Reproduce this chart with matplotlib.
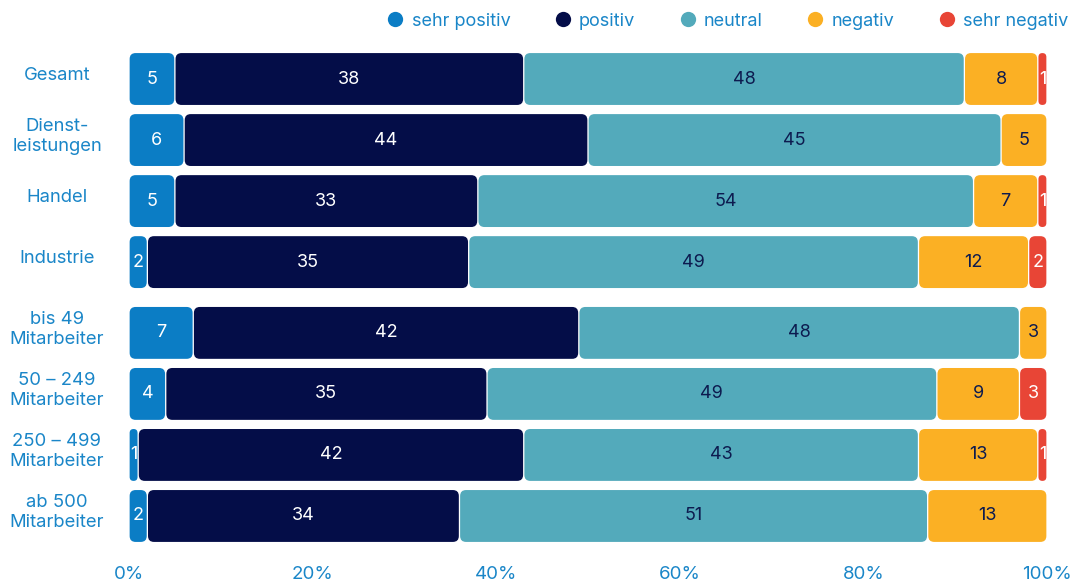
import matplotlib
matplotlib.use("Agg")
import matplotlib.pyplot as plt
from matplotlib.patches import FancyBboxPatch
from matplotlib.lines import Line2D
from matplotlib import transforms

plt.rcParams['font.family'] = ['Inter', 'DejaVu Sans']

categories = ["Gesamt", "Dienst-\nleistungen", "Handel", "Industrie",
              "bis 49\nMitarbeiter", "50 – 249\nMitarbeiter",
              "250 – 499\nMitarbeiter", "ab 500\nMitarbeiter"]
series_names = ["sehr positiv", "positiv", "neutral", "negativ", "sehr negativ"]
sehr_positiv = [5, 6, 5, 2, 7, 4, 1, 2]
positiv = [38, 44, 33, 35, 42, 35, 42, 34]
neutral = [48, 45, 54, 49, 48, 49, 43, 51]
negativ = [8, 5, 7, 12, 3, 9, 13, 13]
sehr_negativ = [1, 0, 1, 2, 0, 3, 1, 0]
x_ticks = [0, 20, 40, 60, 80, 100]
x_tick_labels = ["0%", "20%", "40%", "60%", "80%", "100%"]

series = [sehr_positiv, positiv, neutral, negativ, sehr_negativ]
colors = ["#0b7dc5", "#040d48", "#53aabb", "#fbb024", "#e84536"]
text_colors = ["white", "white", "#0d1b4f", "#0d1b4f", "white"]
label_blue = "#1a86c8"

fig = plt.figure(figsize=(10.77, 5.88), dpi=100)
ax = fig.add_axes([129 / 1077, 0.0602, 918 / 1077, 0.8677])

# rows, with a small extra gap between the sector and the size groups
rows = [i + (0.16 if i >= 4 else 0.0) for i in range(len(categories))]
bar_h = 0.85
gap = 0.07
r_x = 0.65
aspect = 0.15

for ri, y in enumerate(rows):
    left = 0.0
    for si, vals in enumerate(series):
        v = vals[ri]
        if v <= 0:
            continue
        x0 = left + gap
        w = v - 2 * gap
        rs = min(r_x, w / 2)
        patch = FancyBboxPatch((x0, y - bar_h / 2), w, bar_h,
                               boxstyle=f"round,pad=0,rounding_size={rs}",
                               mutation_aspect=aspect,
                               facecolor=colors[si], edgecolor="none")
        ax.add_patch(patch)
        ax.text(left + v / 2, y, str(v), ha="center", va="center",
                color=text_colors[si], fontsize=13)
        left += v

ax.set_xlim(0, 100)
ax.set_ylim(rows[-1] + 0.6, -0.6)
for s in ax.spines.values():
    s.set_visible(False)
ax.set_yticks([])
ax.set_xticks(x_ticks)
ax.set_xticklabels(x_tick_labels)
ax.tick_params(axis="x", length=0, pad=10, labelsize=13.5, labelcolor=label_blue)

# category labels, centred in the left margin
lab_tr = ax.get_yaxis_transform() + transforms.ScaledTranslation(0, 2.5 / 72, fig.dpi_scale_trans)
for y, cat in zip(rows, categories):
    ax.text(-72 / 918, y, cat, transform=lab_tr, ha="center", va="center",
            color=label_blue, fontsize=13.3, linespacing=1.2)

handles = [Line2D([], [], marker="o", linestyle="none", markersize=11,
                  markerfacecolor=c, markeredgecolor="none") for c in colors]
leg = fig.legend(handles, series_names, loc="center right", ncol=5,
                 bbox_to_anchor=(1068 / 1077, 1 - 21 / 588), frameon=False,
                 prop={"size": 13}, handlelength=0.9, handletextpad=0.45,
                 columnspacing=2.45, borderaxespad=0, borderpad=0)
for t in leg.get_texts():
    t.set_color(label_blue)

fig.savefig("out.png", dpi=100)
